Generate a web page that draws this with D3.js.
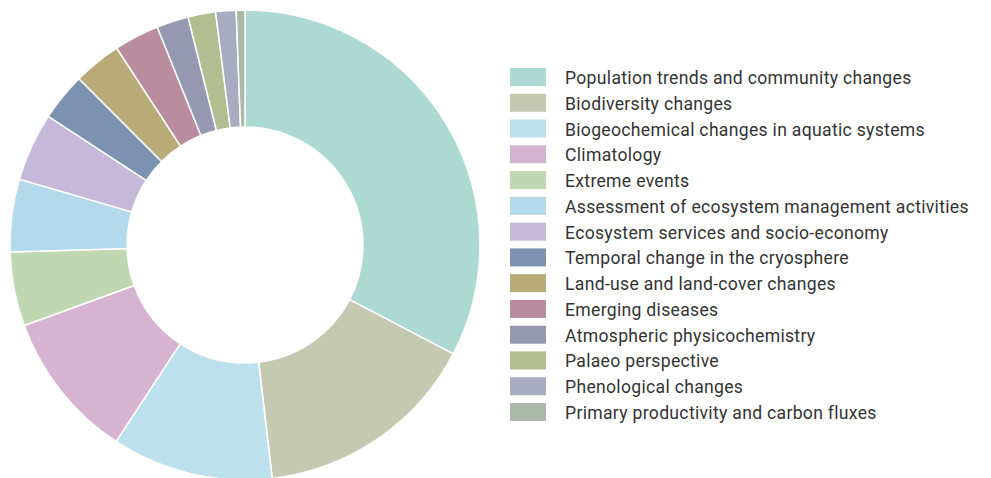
<!DOCTYPE html>
<html>
<head>
<meta charset="utf-8">
<script src="https://cdn.jsdelivr.net/npm/d3@7"></script>
<style>
  html, body { margin: 0; padding: 0; background: #ffffff; }
  svg { display: block; }
</style>
</head>
<body>
<svg id="chart" width="991" height="478"></svg>
<script>
// Research themes and their share of studies (percent)
const categories = [
  "Population trends and community changes",
  "Biodiversity changes",
  "Biogeochemical changes in aquatic systems",
  "Climatology",
  "Extreme events",
  "Assessment of ecosystem management activities",
  "Ecosystem services and socio-economy",
  "Temporal change in the cryosphere",
  "Land-use and land-cover changes",
  "Emerging diseases",
  "Atmospheric physicochemistry",
  "Palaeo perspective",
  "Phenological changes",
  "Primary productivity and carbon fluxes"
];
const shares = [32.7, 15.5, 11.1, 10.2, 5.1, 5.0, 4.7, 3.3, 3.3, 3.1, 2.2, 1.9, 1.4, 0.6];
const palette = [
  "#acdad2", "#c6c9b2", "#bce1ed", "#d7b3d2", "#bfd8b1", "#b5d9ec", "#c5b8da",
  "#7b92b0", "#b8ab78", "#b98d9d", "#9697b1", "#b2bd91", "#a9abc0", "#a9baa6"
];

const svg = d3.select("#chart");
const cx = 245, cy = 245, outerR = 235, innerR = 118;

const color = d3.scaleOrdinal().domain(categories).range(palette);

const pie = d3.pie().value(d => d.value).sort(null);
const arc = d3.arc().innerRadius(innerR).outerRadius(outerR);

const data = categories.map((c, i) => ({ name: c, value: shares[i] }));

svg.append("g")
  .attr("transform", `translate(${cx},${cy})`)
  .selectAll("path")
  .data(pie(data))
  .join("path")
  .attr("d", arc)
  .attr("fill", d => color(d.data.name))
  .attr("stroke", "#ffffff")
  .attr("stroke-width", 1.5);

// Legend
const legendY = d3.scalePoint().domain(categories).range([77, 412]);
const legend = svg.append("g");
const rows = legend.selectAll("g")
  .data(categories)
  .join("g")
  .attr("transform", d => `translate(510,${legendY(d)})`);

rows.append("rect")
  .attr("x", 0).attr("y", -9)
  .attr("width", 36).attr("height", 18)
  .attr("fill", d => color(d));

const labels = rows.append("text")
  .attr("x", 55).attr("y", 7)
  .attr("font-family", "Roboto, 'Noto Sans', sans-serif")
  .attr("font-size", 16)
  .attr("letter-spacing", 0.3)
  .attr("fill", "#333333")
  .text(d => d);

// Size the legend type so the first label spans the intended width
const firstWidth = labels.node().getComputedTextLength();
const fontSize = 16 * 348 / firstWidth;
labels.attr("font-size", Math.min(18.5, fontSize));
</script>
</body>
</html>
